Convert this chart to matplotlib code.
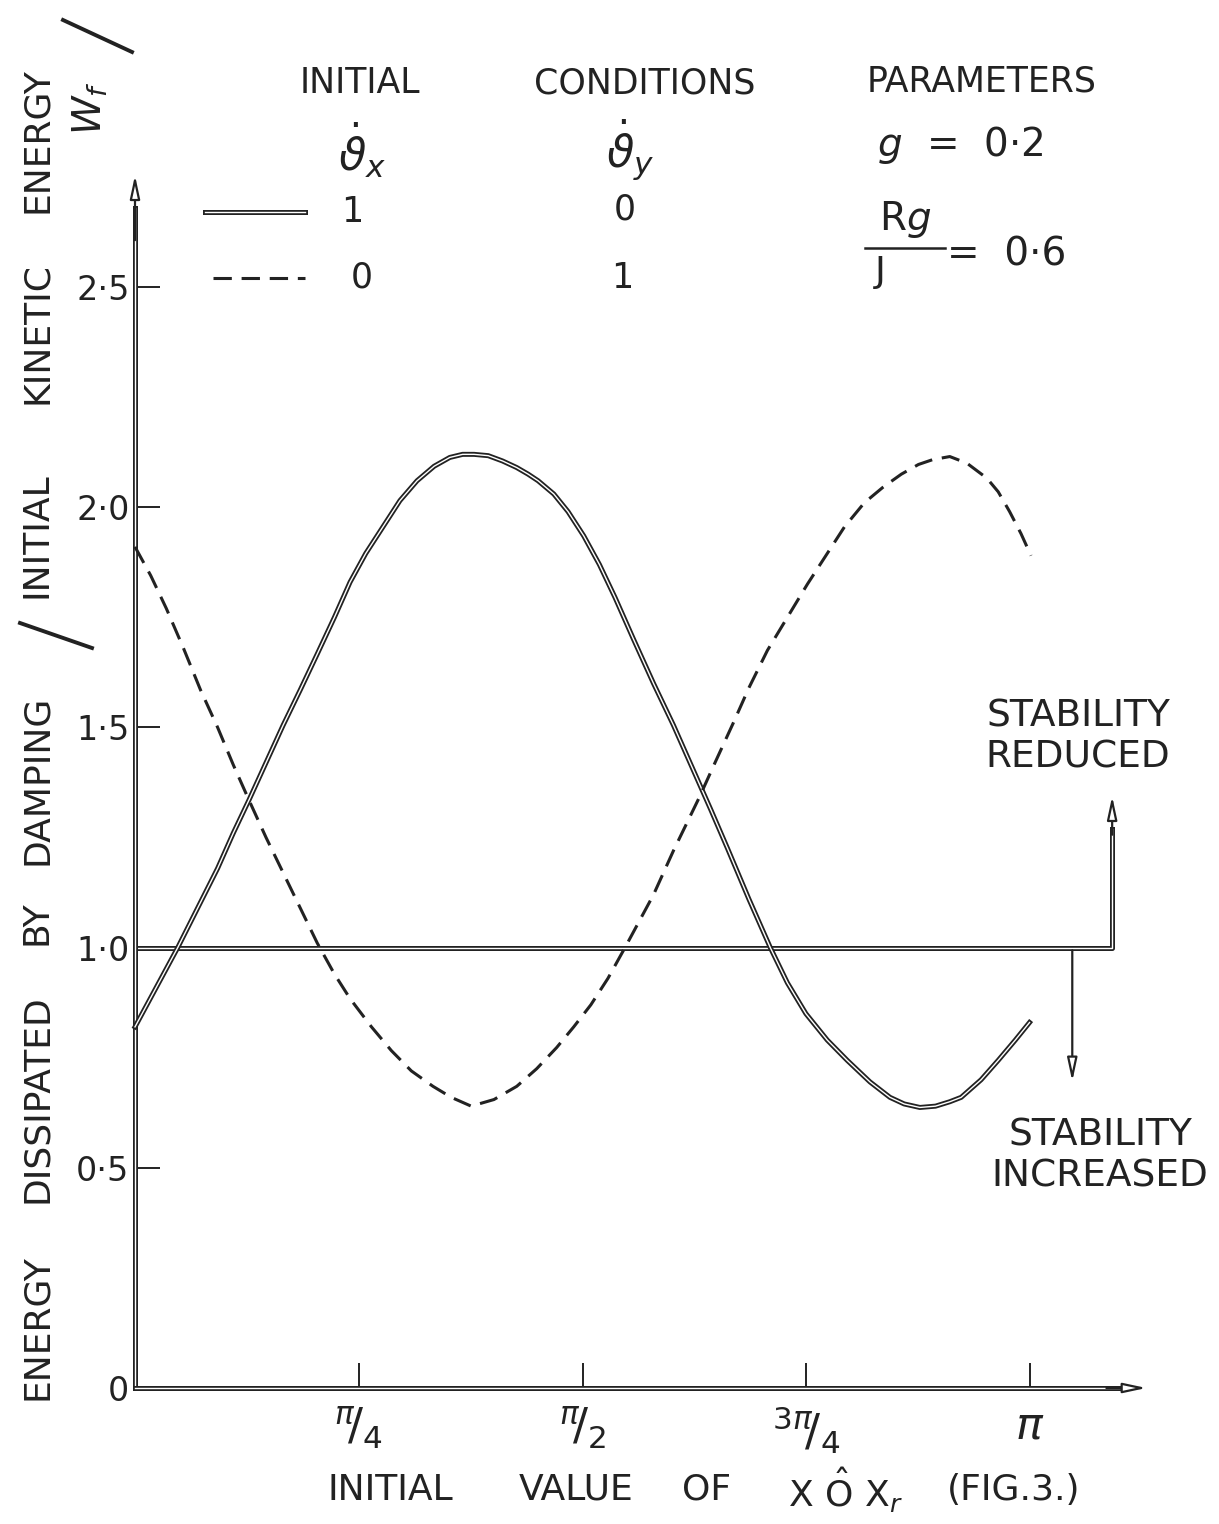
import matplotlib.pyplot as plt
import numpy as np
from matplotlib import patheffects as pe
from matplotlib.lines import Line2D

# initial value of the angle (radians) and energy ratio
x_solid = [0.0, 0.075, 0.15, 0.22, 0.29, 0.345, 0.40, 0.46, 0.52, 0.58, 0.64, 0.70,
           0.755, 0.81, 0.87, 0.93, 0.99, 1.05, 1.105, 1.15, 1.19, 1.24, 1.29, 1.34,
           1.38, 1.415, 1.47, 1.52, 1.575, 1.63, 1.685, 1.75, 1.82, 1.89, 1.955, 2.02,
           2.08, 2.155, 2.23, 2.29, 2.355, 2.43, 2.50, 2.58, 2.65, 2.70, 2.755, 2.81,
           2.86, 2.90, 2.97, 3.03, 3.09, 3.14]
y_solid = [0.82, 0.91, 1.00, 1.09, 1.18, 1.26, 1.335, 1.42, 1.505, 1.585, 1.667, 1.75,
           1.83, 1.895, 1.955, 2.015, 2.06, 2.093, 2.113, 2.12, 2.12, 2.117, 2.105, 2.09,
           2.075, 2.06, 2.03, 1.99, 1.935, 1.87, 1.795, 1.70, 1.60, 1.505, 1.41, 1.315,
           1.225, 1.11, 1.00, 0.92, 0.85, 0.79, 0.744, 0.695, 0.66, 0.645, 0.637, 0.64,
           0.65, 0.66, 0.70, 0.744, 0.79, 0.83]

# same for the dashed curve
x_dash = [0.0, 0.055, 0.11, 0.17, 0.23, 0.29, 0.345, 0.40, 0.46, 0.52, 0.58, 0.64,
          0.70, 0.755, 0.83, 0.90, 0.97, 1.046, 1.11, 1.18, 1.26, 1.34, 1.41, 1.48,
          1.54, 1.60, 1.66, 1.72, 1.82, 1.89, 1.98, 2.036, 2.10, 2.155, 2.22, 2.29,
          2.36, 2.425, 2.49, 2.56, 2.625, 2.69, 2.75, 2.80, 2.86, 2.92, 2.99, 3.03,
          3.07, 3.11, 3.145]
y_dash = [1.91, 1.845, 1.77, 1.68, 1.585, 1.50, 1.415, 1.335, 1.25, 1.17, 1.09, 1.01,
          0.94, 0.884, 0.82, 0.766, 0.72, 0.685, 0.66, 0.64, 0.655, 0.685, 0.725, 0.773,
          0.82, 0.87, 0.93, 1.0, 1.12, 1.22, 1.34, 1.42, 1.51, 1.59, 1.675, 1.75,
          1.825, 1.89, 1.955, 2.01, 2.045, 2.075, 2.097, 2.108, 2.115, 2.10, 2.066, 2.035,
          1.99, 1.94, 1.89]

y_ticks = [0, 0.5, 1.0, 1.5, 2.0, 2.5]
y_tick_labels = ['0', '0·5', '1·0', '1·5', '2·0', '2·5']
x_ticks = [np.pi / 4, np.pi / 2, 3 * np.pi / 4, np.pi]
x_tick_labels = [r'$^{\pi}\!/_{4}$', r'$^{\pi}\!/_{2}$', r'$^{3\pi}\!/_{4}$', r'$\pi$']

# stability boundary and the two arrows on the right
boundary = 1.0
boundary_end = 3.43
up_arrow_top = 1.35
down_arrow_x = 3.29
down_arrow_bottom = 0.69

W, H = 1219, 1524
fig = plt.figure(figsize=(W / 100, H / 100), dpi=100)
ax = fig.add_axes([135 / W, 1 - 1388 / H, 895 / W, 1101 / H])
ax.set_xlim(0, np.pi)
ax.set_ylim(0, 2.5)
for s in ax.spines.values():
    s.set_visible(False)


def fx(x):
    return x / W


def fy(y):
    return 1 - y / H


ink = '#222222'
inked = [pe.Stroke(linewidth=3.6, foreground=ink), pe.Stroke(linewidth=1.0, foreground='white')]
arrow = dict(arrowstyle='-|>,head_length=1.4,head_width=0.3', ec=ink, fc='white', lw=1.6)

# curves
ax.plot(x_solid, y_solid, color=ink, lw=3.6, path_effects=inked, clip_on=False, zorder=3)
ax.plot(x_dash, y_dash, color=ink, lw=2.2, ls=(0, (6, 3.2)), clip_on=False, zorder=3)

# boundary line turning up into an arrow, plus the downward arrow
ax.plot([0, boundary_end, boundary_end], [boundary, boundary, up_arrow_top - 0.08],
        color=ink, lw=3.2, path_effects=inked, clip_on=False, zorder=2)
ax.annotate('', xy=(boundary_end, up_arrow_top), xytext=(boundary_end, up_arrow_top - 0.1),
            arrowprops=arrow, annotation_clip=False)
ax.annotate('', xy=(down_arrow_x, down_arrow_bottom), xytext=(down_arrow_x, boundary),
            arrowprops=arrow, annotation_clip=False)

# axes drawn as inked lines with open arrow heads
ax.plot([0, 0], [0, 2.68], color=ink, lw=3.6, path_effects=inked, clip_on=False, zorder=2)
ax.plot([0, 3.49], [0, 0], color=ink, lw=3.6, path_effects=inked, clip_on=False, zorder=2)
ax.annotate('', xy=(0, 2.76), xytext=(0, 2.6), arrowprops=arrow, annotation_clip=False)
ax.annotate('', xy=(3.56, 0), xytext=(3.4, 0), arrowprops=arrow, annotation_clip=False)

ax.set_yticks(y_ticks)
ax.set_yticklabels(y_tick_labels)
ax.set_xticks(x_ticks)
ax.set_xticklabels(x_tick_labels)
ax.tick_params(axis='y', direction='in', length=18, width=1.4, color=ink, labelsize=24,
               pad=4, labelcolor=ink)
ax.tick_params(axis='x', direction='in', length=18, width=1.4, color=ink, labelsize=32,
               pad=12, labelcolor=ink)

# y axis label, written sideways word by word
ylab = [('ENERGY', 1327), ('DISSIPATED', 1099), ('BY', 923), ('DAMPING', 780),
        ('INITIAL', 535), ('KINETIC', 333), ('ENERGY', 140)]
for word, yc in ylab:
    fig.text(fx(37), fy(yc), word, rotation=90, ha='center', va='center',
             fontsize=26, color=ink)
fig.add_artist(Line2D([fx(20), fx(92)], [fy(623), fy(648)], color=ink, lw=2.8))
fig.text(fx(90), fy(108), r'$W_f$', rotation=90, ha='center', va='center',
         fontsize=28, color=ink)
fig.add_artist(Line2D([fx(63), fx(132)], [fy(20), fy(52)], color=ink, lw=2.8))

# x axis label, word by word
xlab = [('INITIAL', 390), ('VALUE', 576), ('OF', 707),
        (r'X $\hat{\mathrm{O}}$ X$_{r}$', 845), ('(FIG.3.)', 1014)]
for word, xc in xlab:
    fig.text(fx(xc), fy(1490), word, ha='center', va='center', fontsize=26, color=ink)

# key and parameters table
hdr = dict(ha='center', va='center', fontsize=25, color=ink)
fig.text(fx(360), fy(83), 'INITIAL', **hdr)
fig.text(fx(645), fy(83), 'CONDITIONS', **hdr)
fig.text(fx(982), fy(82), 'PARAMETERS', **hdr)
fig.text(fx(362), fy(150), r'$\dot{\vartheta}_x$', ha='center', va='center', fontsize=32, color=ink)
fig.text(fx(630), fy(150), r'$\dot{\vartheta}_y$', ha='center', va='center', fontsize=32, color=ink)
fig.text(fx(960), fy(145), r'$g$  =  0·2', ha='center', va='center', fontsize=28, color=ink)

fig.add_artist(Line2D([fx(205), fx(305)], [fy(212), fy(212)], color=ink, lw=3.0,
                      path_effects=inked))
fig.text(fx(352), fy(212), '1', **hdr)
fig.text(fx(625), fy(210), '0', **hdr)
fig.add_artist(Line2D([fx(213), fx(305)], [fy(278), fy(278)], color=ink, lw=2.2,
                      ls=(0, (6, 3.2))))
fig.text(fx(362), fy(278), '0', **hdr)
fig.text(fx(622), fy(278), '1', **hdr)

fig.text(fx(905), fy(220), r'R$g$', ha='center', va='center', fontsize=28, color=ink)
fig.add_artist(Line2D([fx(865), fx(945)], [fy(248), fy(248)], color=ink, lw=1.8))
fig.text(fx(880), fy(272), 'J', ha='center', va='center', fontsize=26, color=ink)
fig.text(fx(1007), fy(255), '=  0·6', ha='center', va='center', fontsize=28, color=ink)

# stability notes
fig.text(fx(1078), fy(737), 'STABILITY\nREDUCED', ha='center', va='center',
         fontsize=27, color=ink, linespacing=1.15)
fig.text(fx(1100), fy(1156), 'STABILITY\nINCREASED', ha='center', va='center',
         fontsize=27, color=ink, linespacing=1.15)

fig.savefig('out.png', dpi=100, facecolor='white')
